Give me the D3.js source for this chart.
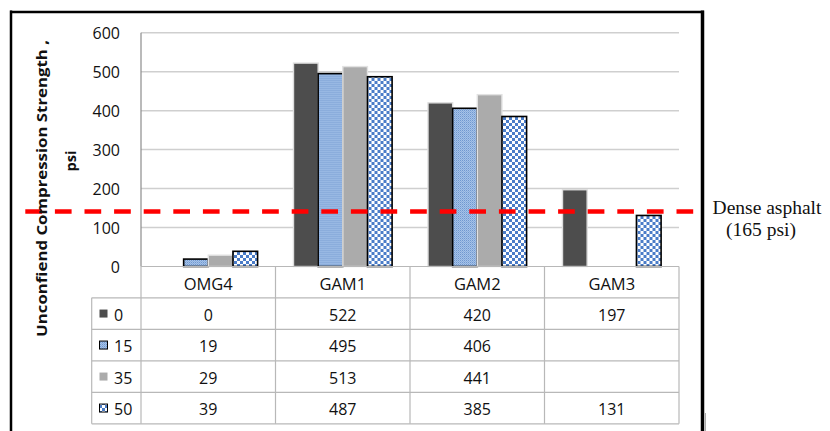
<!DOCTYPE html>
<html>
<head>
<meta charset="utf-8">
<script src="https://cdn.jsdelivr.net/npm/d3@7"></script>
<style>
html,body{margin:0;padding:0;background:#fff;}
svg{display:block;font-family:"Open Sans",sans-serif;}
</style>
</head>
<body>
<svg id="chart" width="830" height="431"></svg>
<script>
// ---- data ----
const categories = ["OMG4", "GAM1", "GAM2", "GAM3"];
const seriesNames = ["0", "15", "35", "50"];
const values0  = [0, 522, 420, 197];
const values15 = [19, 495, 406, null];
const values35 = [29, 513, 441, null];
const values50 = [39, 487, 385, 131];
const yTicks = [0, 100, 200, 300, 400, 500, 600];
const refValue = 141;
const refLabel1 = "Dense asphalt";
const refLabel2 = "(165 psi)";
const yTitle1 = "Unconfiend Compression Strength ,";
const yTitle2 = "psi";

const seriesValues = [values0, values15, values35, values50];

const svg = d3.select("#chart");
const defs = svg.append("defs");

// patterns
const pFine = defs.append("pattern").attr("id","pFine").attr("patternUnits","userSpaceOnUse")
  .attr("width",2).attr("height",2);
pFine.append("rect").attr("width",2).attr("height",2).attr("fill","#a6c2e8");
pFine.append("rect").attr("width",1).attr("height",1).attr("fill","#6f98d0");
pFine.append("rect").attr("x",1).attr("y",1).attr("width",1).attr("height",1).attr("fill","#8aaedd");

const pCheck = defs.append("pattern").attr("id","pCheck").attr("patternUnits","userSpaceOnUse")
  .attr("width",6).attr("height",6);
pCheck.append("rect").attr("width",6).attr("height",6).attr("fill","#ffffff");
pCheck.append("rect").attr("width",3).attr("height",3).attr("fill","#4a7cc8");
pCheck.append("rect").attr("x",3).attr("y",3).attr("width",3).attr("height",3).attr("fill","#4a7cc8");

const fills = ["#4d4d4d", "url(#pFine)", "#ababab", "url(#pCheck)"];
const strokes = ["#dedede", "#000", "#e2e2e2", "#000"];

// scales
const plotLeft = 141, plotRight = 679, plotTop = 32.7, plotBottom = 266.5;
const x = d3.scaleBand().domain(categories).range([plotLeft, plotRight]).paddingInner(0).paddingOuter(0);
const x1 = d3.scaleBand().domain(seriesNames).range([18, 116.6]).padding(0);
const y = d3.scaleLinear().domain([0, 600]).range([plotBottom, plotTop]);

// gridlines
svg.append("g").selectAll("line").data(yTicks.filter(d => d > 0)).join("line")
  .attr("x1", plotLeft).attr("x2", plotRight)
  .attr("y1", d => y(d)).attr("y2", d => y(d))
  .attr("stroke", "#cfcfcf").attr("stroke-width", 1.5);

// y axis labels
const yAxis = d3.axisLeft(y).tickValues(yTicks).tickSize(0).tickPadding(0);
const gy = svg.append("g").attr("transform", `translate(120,0)`).call(yAxis);
gy.select(".domain").remove();
gy.selectAll("text").attr("font-size", 16).attr("fill", "#111")
  .style("font-family", "'Open Sans',sans-serif").attr("dy","0.35em");

// bars
const groups = svg.append("g").selectAll("g").data(categories).join("g")
  .attr("transform", d => `translate(${x(d)},0)`);
groups.each(function(cat, ci) {
  const g = d3.select(this);
  seriesNames.forEach((s, si) => {
    const v = seriesValues[si][ci];
    if (v == null || v === 0) return;
    g.append("rect")
      .attr("x", x1(s)).attr("width", x1.bandwidth())
      .attr("y", y(v)).attr("height", y(0) - y(v))
      .attr("fill", fills[si])
      .attr("stroke", strokes[si])
      .attr("stroke-width", si % 2 === 1 ? 1.6 : 1.4);
  });
});

// axis line (left)
svg.append("line").attr("x1", plotLeft).attr("x2", plotLeft).attr("y1", plotTop).attr("y2", plotBottom)
  .attr("stroke", "#8c8c8c").attr("stroke-width", 1.2);

// data table
const legendLeft = 91.7;
const rowH = 31.5;
const tableTop = plotBottom;
const headerBottom = tableTop + 31.3;
const rowYs = seriesNames.map((s, i) => headerBottom + i * rowH);
const tableBottom = headerBottom + seriesNames.length * rowH;
const tg = svg.append("g").attr("stroke", "#b8b8b8").attr("stroke-width", 1.2);
tg.append("line").attr("x1", plotLeft).attr("x2", plotRight).attr("y1", tableTop).attr("y2", tableTop);
[headerBottom, ...rowYs.slice(1), tableBottom].forEach(yy => {
  tg.append("line").attr("x1", legendLeft).attr("x2", plotRight).attr("y1", yy).attr("y2", yy);
});
const colEdges = categories.map(c => x(c)).concat([plotRight]);
colEdges.forEach(xx => {
  tg.append("line").attr("x1", xx).attr("x2", xx).attr("y1", tableTop).attr("y2", tableBottom);
});
tg.append("line").attr("x1", legendLeft).attr("x2", legendLeft).attr("y1", headerBottom).attr("y2", tableBottom);

// header labels
svg.append("g").selectAll("text").data(categories).join("text")
  .attr("x", d => x(d) + x.bandwidth() / 2)
  .attr("y", (tableTop + headerBottom) / 2 + 1)
  .attr("text-anchor", "middle").attr("dominant-baseline", "central")
  .attr("font-size", 16.5).attr("fill", "#111").text(d => d);

// rows
seriesNames.forEach((s, si) => {
  const cy = rowYs[si] + rowH / 2 + 1;
  svg.append("rect").attr("x", 99.5).attr("y", cy - 5).attr("width", 8).attr("height", 8)
    .attr("fill", fills[si])
    .attr("stroke", si % 2 === 1 ? "#000" : "none").attr("stroke-width", 1);
  svg.append("text").attr("x", 114).attr("y", cy).attr("dominant-baseline", "central")
    .attr("font-size", 16).attr("fill", "#111").text(s);
  categories.forEach((c, ci) => {
    const v = seriesValues[si][ci];
    if (v == null) return;
    svg.append("text").attr("x", x(c) + x.bandwidth() / 2).attr("y", cy)
      .attr("text-anchor", "middle").attr("dominant-baseline", "central")
      .attr("font-size", 16).attr("fill", "#111").text(v);
  });
});

// reference dashed line
svg.append("line").attr("x1", 25.3).attr("x2", 694).attr("y1", y(refValue)).attr("y2", y(refValue))
  .attr("stroke", "#ff0000").attr("stroke-width", 4.5).attr("stroke-dasharray", "16.7 12.9");

// y title
svg.append("text").attr("transform", "translate(47,188.5) rotate(-90)")
  .attr("text-anchor", "middle").attr("font-weight", "bold").attr("font-size", 14.5)
  .attr("textLength", 297).attr("lengthAdjust", "spacingAndGlyphs")
  .attr("fill", "#111").text(yTitle1);
svg.append("text").attr("transform", "translate(76,161) rotate(-90)")
  .attr("text-anchor", "middle").attr("font-weight", "bold").attr("font-size", 14.5)
  .attr("fill", "#111").text(yTitle2);

// outer frame
const fr = svg.append("g").attr("stroke", "#000");
fr.append("line").attr("x1", 11).attr("x2", 11).attr("y1", 10.5).attr("y2", 431).attr("stroke-width", 2.5);
fr.append("line").attr("x1", 10).attr("x2", 704).attr("y1", 12).attr("y2", 12).attr("stroke-width", 2.5);
fr.append("line").attr("x1", 702.5).attr("x2", 702.5).attr("y1", 10.5).attr("y2", 431).attr("stroke-width", 3.5);
svg.append("line").attr("x1", 705.5).attr("x2", 705.5).attr("y1", 413).attr("y2", 431).attr("stroke", "#aaa").attr("stroke-width", 1);

// reference label
const serif = "'Liberation Serif','Times New Roman',serif";
svg.append("text").attr("x", 767).attr("y", 214).attr("text-anchor", "middle")
  .style("font-family", serif).attr("font-size", 19.5)
  .attr("fill", "#111").text(refLabel1);
svg.append("text").attr("x", 761).attr("y", 236).attr("text-anchor", "middle")
  .style("font-family", serif).attr("font-size", 19.5)
  .attr("fill", "#111").text(refLabel2);
</script>
</body>
</html>
